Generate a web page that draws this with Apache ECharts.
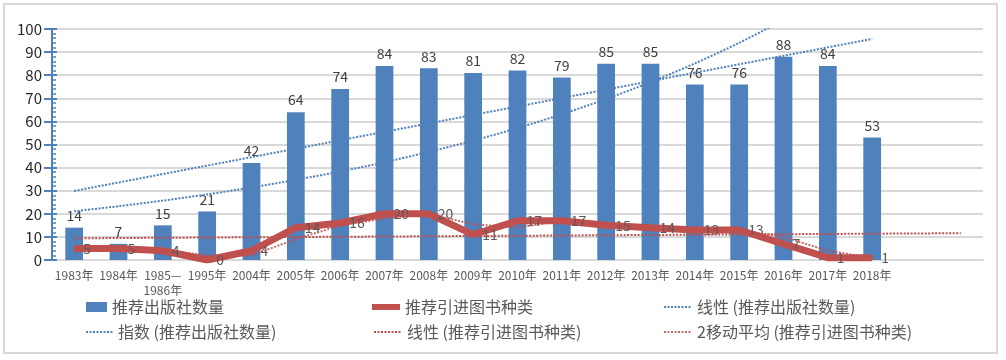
<!DOCTYPE html>
<html>
<head>
<meta charset="utf-8">
<script src="https://cdn.jsdelivr.net/npm/echarts@6/dist/echarts.min.js"></script>
<style>html,body{margin:0;padding:0;background:#fff}#c{width:1006px;height:360px}</style>
</head>
<body>
<div id="c"></div>
<script>
// categories (two trailing blank slots for trendline forecast)
const categories = ['1983年','1984年','1985—\n1986年','1995年','2004年','2005年','2006年','2007年','2008年','2009年','2010年','2011年','2012年','2013年','2014年','2015年','2016年','2017年','2018年',' ','  '];
const publishers = [14,7,15,21,42,64,74,84,83,81,82,79,85,85,76,76,88,84,53];
const books = [5,5,4,0,4,14,16,20,20,11,17,17,15,14,13,13,7,1,1];
// trendlines: [category index, value]
const pubLinear = [[0,29.9],[18,95.7]];
const pubExp = [[0,21.1],[1,23.3],[2,25.7],[3,28.4],[4,31.4],[5,34.7],[6,38.3],[7,42.3],[8,46.8],[9,51.7],[10,57.1],[11,63.1],[12,69.7],[13,77.0],[14,85.1],[15,94.0],[16,103.9]];
const bookLinear = [[0,9.4],[20,11.6]];
const bookMA2 = [[1,5],[2,4.5],[3,2],[4,2],[5,9],[6,15],[7,18],[8,20],[9,15.5],[10,14],[11,17],[12,16],[13,14.5],[14,13.5],[15,13],[16,10],[17,4],[18,1]];
const yTicks = {min:0, max:100, interval:10};

const names = ['推荐出版社数量','推荐引进图书种类','线性 (推荐出版社数量)','指数 (推荐出版社数量)','线性 (推荐引进图书种类)','2移动平均 (推荐引进图书种类)'];
const BLUE = '#4F81BD', RED = '#C0504D';
const FONT = '"Noto Sans CJK SC","Noto Sans",sans-serif';

const chart = echarts.init(document.getElementById('c'), null, {renderer:'canvas'});
function lg(name, left, top, w, h, icon, hideSymbol) {
  const d = {name: name};
  if (icon) d.icon = icon;
  const o = {data:[d], left:left, top:top, padding:0, itemWidth:w, itemHeight:h, itemGap:0,
    textStyle:{color:'#595959', fontSize:16, fontFamily:FONT}, selectedMode:false};
  if (hideSymbol) o.itemStyle = {opacity:0};
  return o;
}
chart.setOption({
  animation:false,
  textStyle:{fontFamily:FONT},
  graphic:[{type:'rect', shape:{x:4,y:4,width:993,height:349}, style:{fill:'none', stroke:'#D9D9D9', lineWidth:2}, silent:true}],
  grid:{left:52, right:23, top:29, bottom:100, containLabel:false},
  legend:[
    lg(names[0], 86, 299, 21, 10, 'rect'),
    lg(names[1], 372, 299, 28, 6, 'rect'),
    lg(names[2], 663, 299, 28, 10, null, true),
    lg(names[3], 85, 324, 27, 10, null, true),
    lg(names[4], 373, 324, 28, 10, null, true),
    lg(names[5], 663, 324, 28, 10, null, true)
  ],
  xAxis:{type:'category', data:categories, boundaryGap:true,
    axisLine:{show:true, lineStyle:{color:'#D9D9D9', width:2}},
    axisTick:{show:false},
    axisLabel:{interval:0, color:'#595959', fontSize:12, margin:8, lineHeight:15, fontFamily:FONT}},
  yAxis:[
    {type:'value', min:yTicks.min, max:yTicks.max, interval:yTicks.interval,
     axisLine:{show:true, lineStyle:{color:BLUE, width:2}},
     axisTick:{show:true, length:8, lineStyle:{color:BLUE, width:2}},
     axisLabel:{color:'#262626', fontSize:15, margin:10, fontFamily:FONT},
     splitLine:{show:true, lineStyle:{color:'#D9D9D9', width:2}}},
    {type:'value', min:yTicks.min, max:yTicks.max, interval:yTicks.interval, position:'left', offset:0,
     axisLine:{show:false},
     axisTick:{show:true, inside:true, length:5, lineStyle:{color:BLUE, width:2}},
     minorTick:{show:true, splitNumber:5, length:4, lineStyle:{color:BLUE, width:1.5}},
     axisLabel:{show:false}, splitLine:{show:false}}
  ],
  series:[
    {name:names[0], type:'bar', data:publishers, barWidth:'40%', itemStyle:{color:BLUE},
     label:{show:true, position:'top', distance:5, color:'#404040', fontSize:14, fontFamily:FONT}, z:2},
    {name:names[1], type:'line', data:books, symbol:'circle', symbolSize:2, itemStyle:{color:RED},
     lineStyle:{color:RED, width:7, join:'round', cap:'butt'},
     label:{show:true, position:'right', distance:8, color:'#595959', fontSize:14, fontFamily:FONT}, z:3},
    {name:names[2], type:'line', yAxisIndex:1, data:pubLinear, symbol:'none', itemStyle:{color:BLUE},
     lineStyle:{color:BLUE, width:2, type:[2,1.5]}, z:4},
    {name:names[3], type:'line', yAxisIndex:1, data:pubExp, symbol:'none', smooth:0.3, clip:true, itemStyle:{color:BLUE},
     lineStyle:{color:BLUE, width:2, type:[2,1.5]}, z:4},
    {name:names[4], type:'line', yAxisIndex:1, data:bookLinear, symbol:'none', itemStyle:{color:RED},
     lineStyle:{color:RED, width:2, type:[2,1.5]}, z:4},
    {name:names[5], type:'line', yAxisIndex:1, data:bookMA2, symbol:'none', itemStyle:{color:RED},
     lineStyle:{color:RED, width:2, type:[2,1.5], opacity:0.85}, z:4}
  ]
});
</script>
</body>
</html>
